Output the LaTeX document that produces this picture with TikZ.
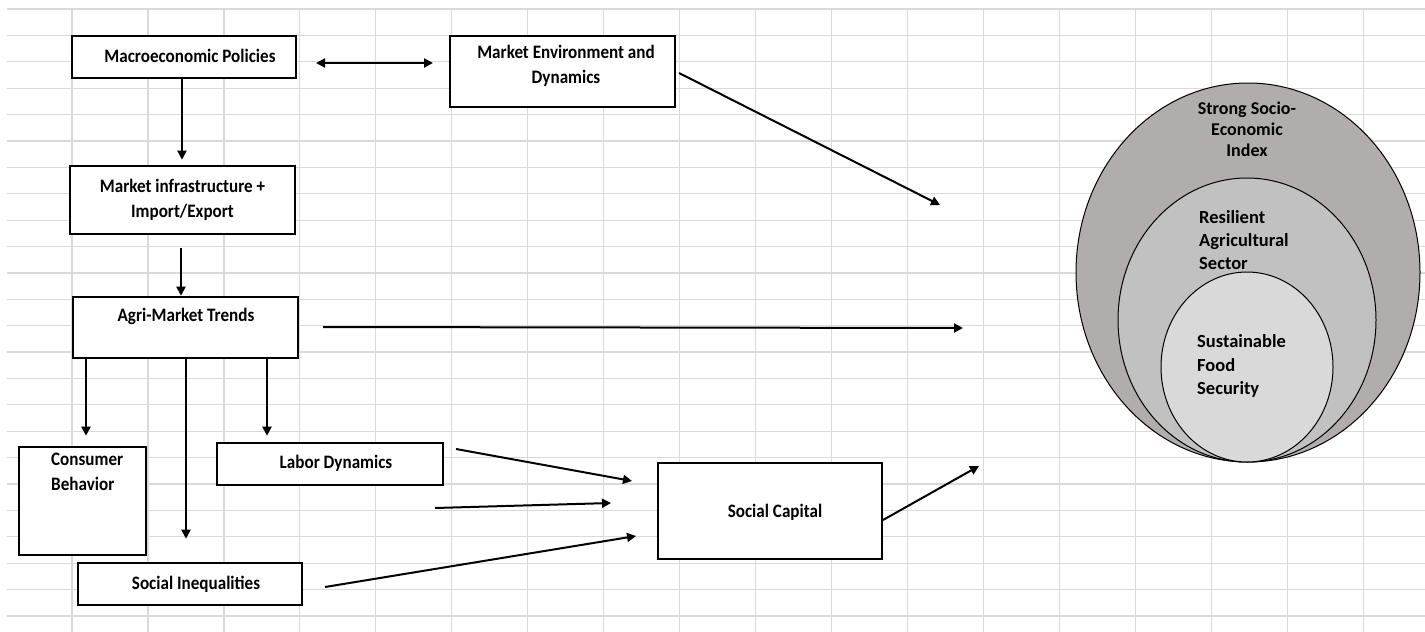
\documentclass[tikz,border=0pt]{standalone}
\usepackage{fontspec}
\setmainfont{Carlito}
\newfontfamily\boxfont[FakeStretch=0.9]{Carlito}
\usetikzlibrary{arrows.meta,shapes.geometric,calc}
\definecolor{gridc}{HTML}{DADADA}
\definecolor{outerc}{HTML}{B1ADAC}
\definecolor{midc}{HTML}{C1C1C1}
\definecolor{innerc}{HTML}{D9D9D9}
\tikzset{
  gridline/.style={draw=gridc, line width=1.2pt},
  box/.style={draw=black, line width=2.6pt, fill=white, rectangle, inner sep=0pt, align=center,
    font=\boxfont\fontsize{19}{25}\selectfont\bfseries},
  txt/.style={inner sep=0pt, align=center, font=\boxfont\fontsize{19}{25}\selectfont\bfseries},
  circtxt/.style={inner sep=0pt, align=left, font=\fontsize{18.5}{23.4}\selectfont\bfseries},
  ring/.style={ellipse, draw=black, line width=1pt, inner sep=0pt},
  arr/.style={draw=black, line width=2pt, -{Triangle[length=9pt,width=9pt]}},
  biarr/.style={draw=black, line width=2pt, {Triangle[length=9pt,width=9pt]}-{Triangle[length=9pt,width=9pt]}}
}
\begin{document}
\begin{tikzpicture}[x=1pt,y=-1pt]
\useasboundingbox (0,0) rectangle (1425,632);
\fill[white] (0,0) rectangle (1425,632);
% spreadsheet grid
\foreach \i in {0,...,23} \draw[gridline] (7,{9+26.39*\i}) -- (1425,{9+26.39*\i});
\foreach \k in {0,...,17} \draw[gridline] ({72+75.95*\k},9) -- ({72+75.95*\k},632);

% boxes
\node[box, minimum width=224pt, minimum height=42pt] (macro) at (184,57) {};
\node[txt] (macro-t) at (190,56) {Macroeconomic Policies};
\node[box, minimum width=225pt, minimum height=71pt] (menv) at (562.5,71.5) {};
\node[txt] (menv-t) at (566,66) {Market Environment and\\Dynamics};
\node[box, minimum width=225pt, minimum height=68pt] (infra) at (182.5,200) {Market infrastructure +\\Import/Export};
\node[box, minimum width=225pt, minimum height=61pt] (agri) at (185.5,327.5) {};
\node[txt] (agri-t) at (186,316) {Agri-Market Trends};
\node[box, minimum width=127pt, minimum height=108pt] (cons) at (82.5,501) {};
\node[txt, align=left, anchor=north west] (cons-t) at (51,453) {Consumer\\Behavior};
\node[box, minimum width=226pt, minimum height=42pt] (labor) at (330,464) {};
\node[txt] (labor-t) at (336,463) {Labor Dynamics};
\node[box, minimum width=224pt, minimum height=42pt] (ineq) at (190,584) {};
\node[txt] (ineq-t) at (196,584) {Social Inequalities};
\node[box, minimum width=224pt, minimum height=96pt] (scap) at (770,511) {};
\node[txt] (scap-t) at (775,512) {Social Capital};

% nested ellipses
\node[ring, fill=outerc, minimum width=344pt, minimum height=379pt] (sei) at (1248,272.5) {};
\node[ring, fill=midc, minimum width=258pt, minimum height=284pt] (ras) at (1247,320) {};
\node[ring, fill=innerc, minimum width=172pt, minimum height=190pt] (sfs) at (1247,367) {};
\node[circtxt, align=center, font=\fontsize{18}{21}\selectfont\bfseries] (sei-t) at (1247,129) {Strong Socio-\\Economic\\Index};
\node[circtxt, anchor=west] (ras-t) at (1199,240) {Resilient\\Agricultural\\Sector};
\node[circtxt, anchor=west] (sfs-t) at (1197,366) {Sustainable\\Food\\Security};

% free arrow ends
\coordinate (d1) at (316,63);
\coordinate (d2) at (433,63);
\coordinate (t1) at (940,205);
\coordinate (t2) at (963,328);
\coordinate (t3) at (979,466);
\coordinate (m1) at (435,508);
\coordinate (m2) at (611,503);
\coordinate (s1) at (632,481);
\coordinate (s3) at (636,536);
\coordinate (l0) at (456,449);
\coordinate (i0) at (325,587);
\coordinate (a0) at (323,327);
\coordinate (e0) at (679,73);
\coordinate (c0) at (883,520);

% connectors
\draw[biarr] (d1) -- (d2);
\draw[arr, shorten >=5pt] (macro.south -| 182,0) -- (infra.north -| 182,0);
\draw[arr, shorten <=13pt] (infra.south -| 181,0) -- (agri.north -| 181,0);
\draw[arr] (e0) -- (t1);
\draw[arr] (a0) -- (t2);
\draw[arr, shorten >=10pt] (agri.south -| 86,0) -- (cons.north -| 86,0);
\draw[arr, shorten >=23pt] (agri.south -| 186,0) -- (ineq.north -| 186,0);
\draw[arr, shorten >=6pt] (agri.south -| 267,0) -- (labor.north -| 267,0);
\draw[arr] (l0) -- (s1);
\draw[arr] (m1) -- (m2);
\draw[arr] (i0) -- (s3);
\draw[arr] (c0) -- (t3);
\end{tikzpicture}
\end{document}
